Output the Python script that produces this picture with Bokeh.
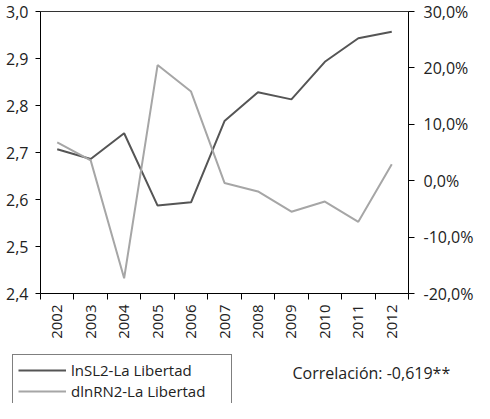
import math
from bokeh.plotting import figure
from bokeh.models import (Range1d, LinearAxis, FixedTicker, CustomJSTickFormatter,
                          Legend, LegendItem, Label)
from bokeh.embed import file_html
from bokeh.resources import INLINE

years = [2002, 2003, 2004, 2005, 2006, 2007, 2008, 2009, 2010, 2011, 2012]
lnSL2 = [2.707, 2.686, 2.741, 2.587, 2.594, 2.767, 2.828, 2.813, 2.893, 2.943, 2.957]
dlnRN2_pct = [6.8, 3.6, -17.3, 20.5, 15.8, -0.4, -1.9, -5.5, -3.7, -7.3, 2.9]
left_ticks = [2.4, 2.5, 2.6, 2.7, 2.8, 2.9, 3.0]
right_ticks = [-20, -10, 0, 10, 20, 30]
series_names = ["lnSL2-La Libertad", "dlnRN2-La Libertad"]
corr_text = "Correlación: -0,619**"

FONT = "Open Sans"
DARK = "#555555"
LIGHT = "#a6a6a6"
TXT = "#222222"

# canvas layout (pixels): plot box inside a full-canvas frame
W, H = 474, 403
BOX_L, BOX_R, BOX_T, BOX_B = 40, 408, 11, 293

x0, x1 = years[0] - 0.5, years[-1] + 0.5
xs = (BOX_R - BOX_L) / (x1 - x0)
xr = Range1d(x0 - BOX_L / xs, x1 + (W - BOX_R) / xs)

yl0, yl1 = left_ticks[0], left_ticks[-1]
ys = (BOX_B - BOX_T) / (yl1 - yl0)
yrng = Range1d(yl0 - (H - BOX_B) / ys, yl1 + BOX_T / ys)

yp0, yp1 = right_ticks[0], right_ticks[-1]
ps = (BOX_B - BOX_T) / (yp1 - yp0)
prng = Range1d(yp0 - (H - BOX_B) / ps, yp1 + BOX_T / ps)

p = figure(frame_width=W, frame_height=H, min_border=0,
           x_range=xr, y_range=yrng,
           output_backend="svg", toolbar_location=None, x_axis_location=None, y_axis_location=None)
p.extra_y_ranges = {"pct": prng}
p.xgrid.visible = False
p.ygrid.visible = False
p.outline_line_color = None

# bottom axis
xaxis = LinearAxis(fixed_location=yl0, bounds=(x0, x1),
                   ticker=FixedTicker(ticks=years, minor_ticks=[y - 0.5 for y in years] + [x1]))
xaxis.major_label_orientation = math.pi / 2
xaxis.major_tick_out = 0
xaxis.major_tick_in = 0
xaxis.minor_tick_out = 6
xaxis.minor_tick_in = 0
xaxis.minor_tick_line_color = "black"
xaxis.axis_line_color = "black"
xaxis.major_label_text_font = FONT
xaxis.major_label_text_font_size = "15px"
xaxis.major_label_text_color = TXT
xaxis.major_label_standoff = 5
p.add_layout(xaxis, "below")

# top border line
top = LinearAxis(fixed_location=yl1, bounds=(x0, x1), ticker=FixedTicker(ticks=[], minor_ticks=[]))
top.axis_line_color = "#333333"
top.major_label_text_font_size = "0px"
top.major_tick_line_color = None
top.minor_tick_line_color = None
p.add_layout(top, "above")

# left axis
yl = LinearAxis(fixed_location=x0, bounds=(yl0, yl1),
                ticker=FixedTicker(ticks=left_ticks, minor_ticks=[]),
                formatter=CustomJSTickFormatter(code="return tick.toFixed(1).replace('.', ',');"))
yl.major_tick_out = 5
yl.major_tick_in = 0
yl.minor_tick_out = 0
yl.axis_line_color = "black"
yl.major_tick_line_color = "black"
yl.major_label_text_font = FONT
yl.major_label_text_font_size = "16px"
yl.major_label_text_color = TXT
yl.major_label_standoff = 7
p.add_layout(yl, "left")

# right axis
yr = LinearAxis(y_range_name="pct", fixed_location=x1, bounds=(yp0, yp1),
                ticker=FixedTicker(ticks=right_ticks, minor_ticks=[]),
                formatter=CustomJSTickFormatter(code="return tick.toFixed(1).replace('.', ',') + '%';"))
yr.major_tick_out = 6
yr.major_tick_in = 0
yr.minor_tick_out = 0
yr.axis_line_color = "black"
yr.major_tick_line_color = "black"
yr.major_label_text_font = FONT
yr.major_label_text_font_size = "16px"
yr.major_label_text_color = TXT
yr.major_label_standoff = 9
p.add_layout(yr, "right")

r1 = p.line(years, lnSL2, line_color=DARK, line_width=2)
r2 = p.line(years, dlnRN2_pct, line_color=LIGHT, line_width=2, y_range_name="pct")

legend = Legend(items=[LegendItem(label=series_names[0], renderers=[r1]),
                       LegendItem(label=series_names[1], renderers=[r2])],
                location=(12, -4), orientation="vertical")
legend.border_line_color = "black"
legend.border_line_width = 1
legend.background_fill_alpha = 0
legend.label_text_font = FONT
legend.label_text_font_size = "15px"
legend.label_text_color = TXT
legend.glyph_width = 48
legend.glyph_height = 20
legend.label_height = 20
legend.label_width = 155
legend.label_standoff = 5
legend.spacing = 1
legend.padding = 5
legend.margin = 0
p.add_layout(legend, "center")

corr = Label(x=292, y=31, x_units="screen", y_units="screen", text=corr_text,
             text_font=FONT, text_font_size="16px", text_color=TXT,
             text_baseline="middle", text_align="left")
p.add_layout(corr)

open("out.html", "w").write(file_html(p, INLINE))
